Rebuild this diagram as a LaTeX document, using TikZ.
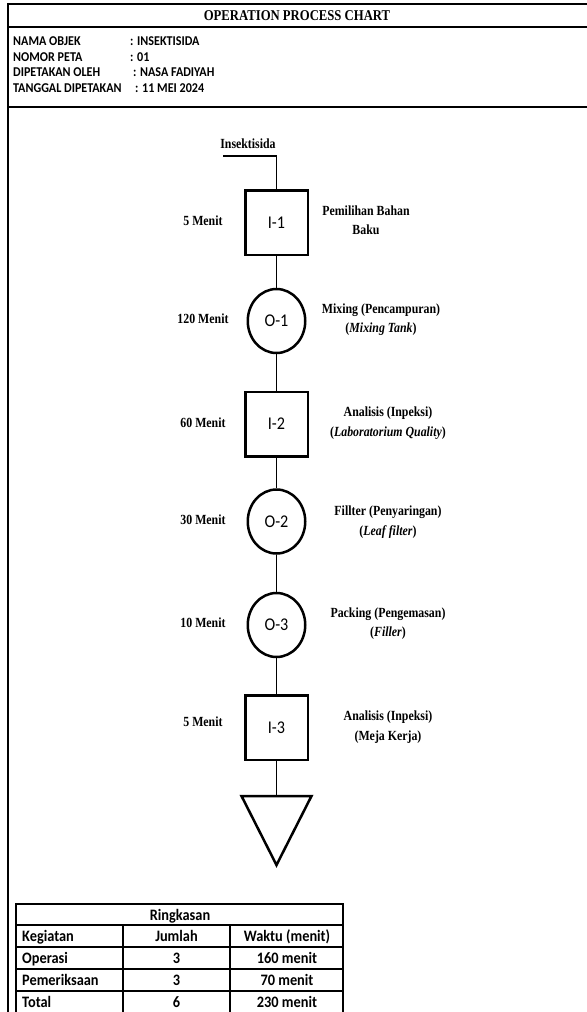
\documentclass[tikz,border=0pt]{standalone}
\usepackage{fontspec}
\setmainfont{Liberation Serif}[FakeStretch=0.85]
\newfontfamily\calfont{Carlito}[FakeStretch=0.9]
\usetikzlibrary{shapes.geometric}
\tikzset{
  frameline/.style={line width=2.5bp},
  nodetext/.style={font=\calfont\fontsize{18}{18}\selectfont},
  inspbox/.style={draw, rectangle, line width=2.5bp, minimum width=62.5bp, minimum height=64.5bp, inner sep=0pt, nodetext},
  opcirc/.style={draw, ellipse, line width=2.5bp, minimum width=57.5bp, minimum height=64bp, inner sep=0pt, nodetext},
  conn/.style={line width=1.7bp},
  timelbl/.style={font=\bfseries\fontsize{14}{19.5}\selectfont, inner sep=0pt},
  desclbl/.style={font=\bfseries\fontsize{14}{19.5}\selectfont, align=center, inner sep=0pt},
  infotext/.style={font=\calfont\bfseries\fontsize{13.5}{16}\selectfont, anchor=base west, inner sep=0pt},
  tbltext/.style={font=\calfont\bfseries\fontsize{16}{16}\selectfont, inner sep=0pt, anchor=base},
  tblline/.style={line width=2.3bp},
}
\begin{document}
\begin{tikzpicture}[x=1bp,y=-1bp]
\useasboundingbox (0,0) rectangle (587,1012);
\fill[white] (0,0) rectangle (587,1012);
% header frame
\draw[frameline] (8,4) -- (588,4);
\draw[frameline] (8,27) -- (588,27);
\draw[frameline] (8,107) -- (588,107);
\draw[frameline] (8,2.75) -- (8,1013);
\node[font=\bfseries\fontsize{15}{15}\selectfont, inner sep=0pt] (title) at (297,15.5) {OPERATION PROCESS CHART};
\node[infotext] (k1) at (13,45.5) {NAMA OBJEK};
\node[infotext] (v1) at (130,45.5) {: INSEKTISIDA};
\node[infotext] (k2) at (13,61) {NOMOR PETA};
\node[infotext] (v2) at (130,61) {: 01};
\node[infotext] (k3) at (13,76.5) {DIPETAKAN OLEH};
\node[infotext] (v3) at (133,76.5) {: NASA FADIYAH};
\node[infotext] (k4) at (13,92.5) {TANGGAL DIPETAKAN};
\node[infotext] (v4) at (135,92.5) {: 11 MEI 2024};

% flow
\node[desclbl] (insek) at (248,144) {Insektisida};
\coordinate (inlet) at (223,156);
\node[inspbox] (i1) at (276.5,222.5) {I-1};
\node[opcirc]  (o1) at (276.5,321) {O-1};
\node[inspbox] (i2) at (276.5,424) {I-2};
\node[opcirc]  (o2) at (276.5,521.5) {O-2};
\node[opcirc]  (o3) at (276.5,625) {O-3};
\node[inspbox] (i3) at (276.5,727.5) {I-3};
\coordinate (st) at (276.5,796);
\draw[frameline, line join=miter] (241.5,796) -- (311.5,796) -- (276.5,865) -- cycle;

\draw[conn] (inlet) -| (i1.north);
\draw[conn] (i1.south) -- (o1.north);
\draw[conn] (o1.south) -- (i2.north);
\draw[conn] (i2.south) -- (o2.north);
\draw[conn] (o2.south) -- (o3.north);
\draw[conn] (o3.south) -- (i3.north);
\draw[conn] (i3.south) -- (st);

% time labels
\node[timelbl] (t1) at (203,221) {5 Menit};
\node[timelbl] (t2) at (203,319) {120 Menit};
\node[timelbl] (t3) at (203,423) {60 Menit};
\node[timelbl] (t4) at (203,520) {30 Menit};
\node[timelbl] (t5) at (203,623) {10 Menit};
\node[timelbl] (t6) at (203,722) {5 Menit};

% descriptions
\node[desclbl] (d1) at (366,220.5) {Pemilihan Bahan\\Baku};
\node[desclbl] (d2) at (381,319.5) {Mixing (Pencampuran)\\(\textit{Mixing Tank})};
\node[desclbl] (d3) at (388,423) {Analisis (Inpeksi)\\(\textit{Laboratorium Quality})};
\node[desclbl] (d4) at (388,522) {Fillter (Penyaringan)\\(\textit{Leaf filter})};
\node[desclbl] (d5) at (388,623.5) {Packing (Pengemasan)\\(\textit{Filler})};
\node[desclbl] (d6) at (388,727) {Analisis (Inpeksi)\\(Meja Kerja)};

% summary table
\draw[tblline] (16,1014) -- (16,904) -- (343,904) -- (343,1014);
\foreach \yy in {925,947,969,991} \draw[tblline] (16,\yy) -- (343,\yy);
\draw[tblline] (123,925) -- (123,1014);
\draw[tblline] (230,925) -- (230,1014);
\node[tbltext] (th) at (180,920) {Ringkasan};
\node[tbltext, anchor=base west] (c11) at (22,941.5) {Kegiatan};
\node[tbltext] (c12) at (176.5,941.5) {Jumlah};
\node[tbltext] (c13) at (287,941.5) {Waktu (menit)};
\node[tbltext, anchor=base west] (c21) at (22,963.5) {Operasi};
\node[tbltext] (c22) at (176.5,963.5) {3};
\node[tbltext] (c23) at (287,963.5) {160 menit};
\node[tbltext, anchor=base west] (c31) at (22,985.5) {Pemeriksaan};
\node[tbltext] (c32) at (176.5,985.5) {3};
\node[tbltext] (c33) at (287,985.5) {70 menit};
\node[tbltext, anchor=base west] (c41) at (22,1007) {Total};
\node[tbltext] (c42) at (176.5,1007) {6};
\node[tbltext] (c43) at (287,1007) {230 menit};
\end{tikzpicture}
\end{document}
